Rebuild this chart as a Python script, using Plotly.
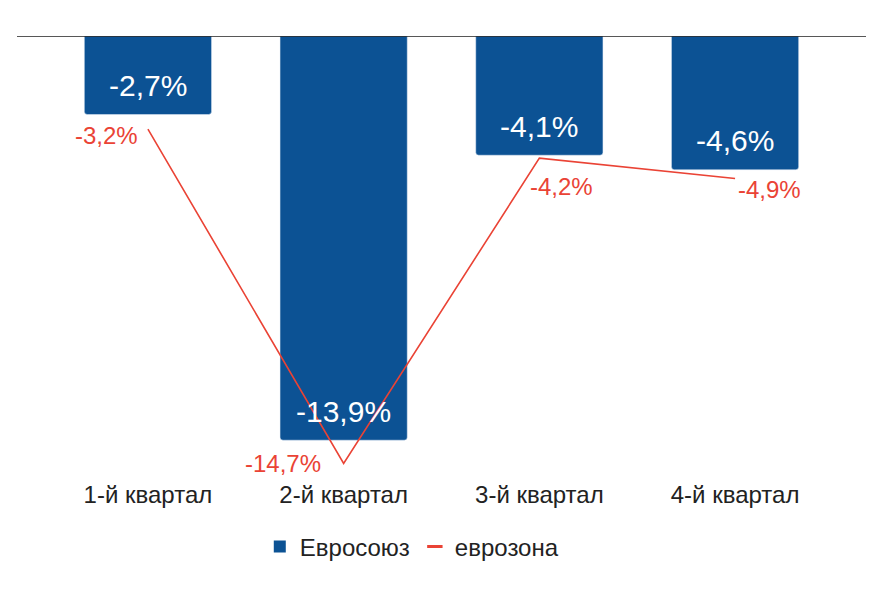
import plotly.graph_objects as go

categories = ["1-й квартал", "2-й квартал", "3-й квартал", "4-й квартал"]
eu_values = [-2.7, -13.9, -4.1, -4.6]
ez_values = [-3.2, -14.7, -4.2, -4.9]
series_names = ["Евросоюз", "еврозона"]

BLUE = "#0C5294"
RED = "#EA4335"
FONT = "Liberation Sans, Arial, sans-serif"

# label offsets (px) for euro-area line labels
ez_offsets = [(-41, -6), (-61, 0), (22, -28), (34, -11)]


def fmt(v):
    return f"{v:.1f}".replace(".", ",") + "%"


x = list(range(len(categories)))

fig = go.Figure()
fig.add_trace(go.Bar(
    x=x, y=eu_values, marker_color=BLUE, width=0.65,
    name=series_names[0], showlegend=False, hoverinfo="skip",
))
fig.add_trace(go.Scatter(
    x=x, y=ez_values, mode="lines", line=dict(color=RED, width=1.6),
    name=series_names[1], showlegend=False, hoverinfo="skip",
))
# legend-only entries
fig.add_trace(go.Scatter(
    x=[None], y=[None], mode="markers", name=series_names[0],
    marker=dict(symbol="square", size=12, color=BLUE),
))
fig.add_trace(go.Scatter(
    x=[None], y=[None], mode="markers", name=series_names[1],
    marker=dict(symbol="line-ew-open", size=11, color=RED,
                line=dict(color=RED, width=3)),
))

annotations = []
for xi, v in zip(x, eu_values):
    annotations.append(dict(
        x=xi, y=v, text=fmt(v), showarrow=False, yshift=29,
        xanchor="center", yanchor="middle",
        font=dict(family=FONT, size=30, color="white"),
    ))
for xi, v, (dx, dy) in zip(x, ez_values, ez_offsets):
    annotations.append(dict(
        x=xi, y=v, text=fmt(v), showarrow=False, xshift=dx, yshift=dy,
        xanchor="center", yanchor="middle",
        font=dict(family=FONT, size=24, color=RED),
    ))

fig.update_layout(
    width=883, height=590,
    margin=dict(l=17, r=17, t=36, b=112),
    plot_bgcolor="white", paper_bgcolor="white",
    barcornerradius=3,
    font=dict(family=FONT, size=24, color="#222222"),
    xaxis=dict(
        range=[-0.669, 3.669], tickmode="array", tickvals=x, ticktext=categories,
        showgrid=False, zeroline=False, showline=False,
        ticks="",
        tickfont=dict(family=FONT, size=24, color="#222222"),
        fixedrange=True,
    ),
    yaxis=dict(
        range=[-15.2, 0], showgrid=False, zeroline=False, showline=False,
        showticklabels=False, fixedrange=True,
    ),
    legend=dict(
        orientation="h", x=0.465, xanchor="center", y=-0.156, yanchor="middle",
        font=dict(family=FONT, size=24, color="#222222"),
        itemwidth=30,
    ),
    annotations=annotations,
    shapes=[dict(
        type="line", xref="paper", yref="y", x0=0, x1=1, y0=0, y1=0,
        line=dict(color="#1f1f1f", width=1.3),
    )],
)

fig.write_html("out.html")
